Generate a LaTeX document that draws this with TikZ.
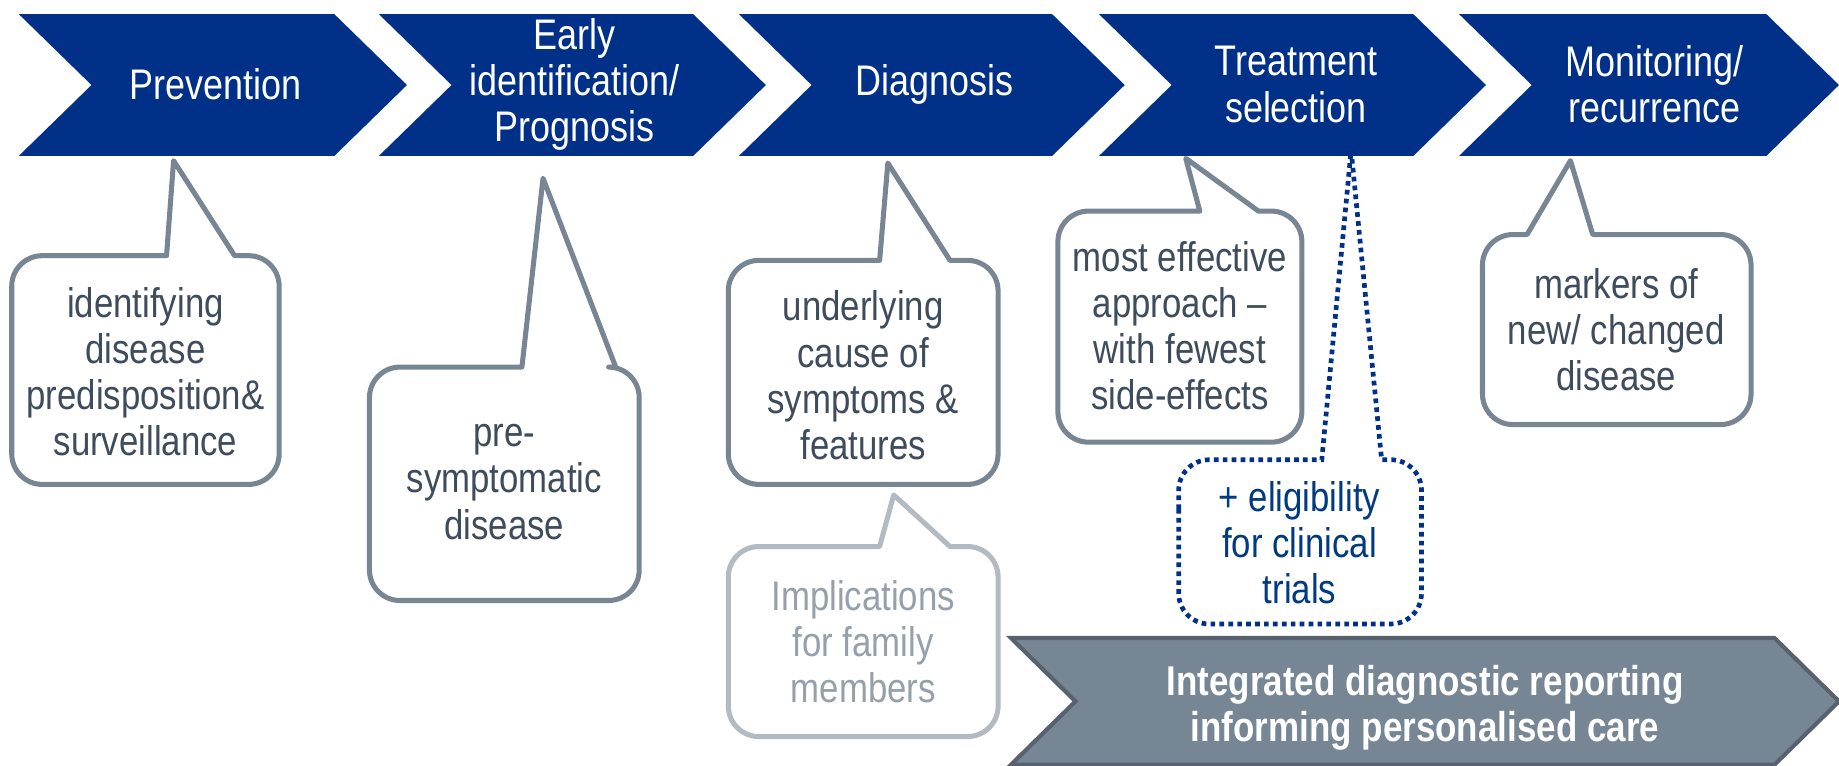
\documentclass[tikz,border=0pt]{standalone}
\usepackage{fontspec}
\setmainfont{Liberation Sans}[FakeStretch=0.84]
\definecolor{chevblue}{RGB}{0,48,135}
\definecolor{bubgray}{RGB}{120,134,148}
\definecolor{txtgray}{RGB}{62,76,92}
\definecolor{lightgray2}{RGB}{178,186,194}
\definecolor{lighttxt}{RGB}{150,160,170}
\definecolor{banfill}{RGB}{118,134,148}
\definecolor{banedge}{RGB}{88,98,110}
\definecolor{dotblue}{RGB}{0,48,135}
\definecolor{eltxt}{RGB}{0,58,130}
\newcommand\chevfs{\fontsize{36.5}{39.5}\selectfont}
\newcommand\bubfs{\fontsize{35.3}{39.3}\selectfont}
\newcommand\banfs{\fontsize{35.5}{38.5}\selectfont\bfseries}
\begin{document}
\begin{tikzpicture}[x=1pt,y=-1pt,
  chev/.style={fill=chevblue},
  ctext/.style={text=white,font=\chevfs,align=center,inner sep=0pt},
  bub/.style={draw=bubgray,line width=4.3pt,fill=white,line join=round},
  lbub/.style={draw=lightgray2,line width=4.3pt,fill=white,line join=round},
  dbub/.style={draw=dotblue,line width=4pt,fill=white,dash pattern=on 4pt off 3.6pt},
  btext/.style={text=txtgray,font=\bubfs,align=center,inner sep=0pt},
  ltext/.style={text=lighttxt,font=\bubfs,align=center,inner sep=0pt},
  etext/.style={text=eltxt,font=\bubfs,align=center,inner sep=0pt},
  bantext/.style={text=white,font=\banfs,align=center,inner sep=0pt},
  banner/.style={fill=banfill,draw=banedge,line width=3.5pt,line join=miter}]
\useasboundingbox (0,0) rectangle (1568,653);
\clip (0,0) rectangle (1568,653);
\fill[white] (0,0) rectangle (1568,653);

% chevrons
\foreach \L/\R in {16/285,323/591,630/897,937/1205,1244/1506}{
  \fill[chev] (\L,12) -- (\R,12) -- (\R+62,72.5) -- (\R,133) -- (\L,133) -- (\L+62,72.5) -- cycle;
}
\node[ctext] (c1) at (184,72) {Prevention};
\node[ctext] (c2) at (490,72) {Early\\identification/\\Prognosis};
\node[ctext] (c3) at (797,72) {Diagnosis};
\node[ctext] (c4) at (1105,72) {Treatment\\selection};
\node[ctext] (c5) at (1411,72) {Monitoring/\\recurrence};

% bubble 1
\draw[bub] (10,300) [rounded corners=26pt] -- (10,218) [sharp corners] -- (142,218) -- (148,137) -- (200,218) [rounded corners=26pt] -- (238,218) -- (238,413) -- (10,413) -- cycle;
\node[btext] (b1) at (124,317) {identifying\\disease\\predisposition\&\\surveillance};

% bubble 2
\draw[bub] (315,400) [rounded corners=26pt] -- (315,313) [sharp corners] -- (445,313) -- (463,152) -- (525,313) [rounded corners=26pt] -- (545,313) -- (545,512) -- (315,512) -- cycle;
\node[btext] (b2) at (430,411) {pre-\\symptomatic\\disease};

% bubble 3
\draw[bub] (621,300) [rounded corners=26pt] -- (621,222) [sharp corners] -- (750,222) -- (757,139) -- (810,222) [rounded corners=26pt] -- (851,222) -- (851,413) -- (621,413) -- cycle;
\node[btext] (b3) at (736,320) {underlying\\cause of\\symptoms \&\\features};

% bubble 4 (light)
\draw[lbub] (621,540) [rounded corners=26pt] -- (621,466) [sharp corners] -- (750,466) -- (762,422) -- (810,466) [rounded corners=26pt] -- (851,466) -- (851,628) -- (621,628) -- cycle;
\node[ltext] (b4) at (736,547) {Implications\\for family\\members};

% bubble 5
\draw[bub] (902,280) [rounded corners=26pt] -- (902,180) [sharp corners] -- (1023,180) -- (1011,135) -- (1073,180) [rounded corners=26pt] -- (1110,180) -- (1110,377) -- (902,377) -- cycle;
\node[btext] (b5) at (1006,278) {most effective\\approach --\\with fewest\\side-effects};

% bubble 6
\draw[bub] (1264,280) [rounded corners=26pt] -- (1264,200) [sharp corners] -- (1302,200) -- (1339,137) -- (1358,200) [rounded corners=26pt] -- (1493,200) -- (1493,362) -- (1264,362) -- cycle;
\node[btext] (b6) at (1378,281) {markers of\\new/ changed\\disease};

% bubble 7 (dotted)
\draw[dbub] (1005,460) [rounded corners=26pt] -- (1005,392) [sharp corners] -- (1127,392) -- (1152,128) -- (1178,392) [rounded corners=26pt] -- (1212,392) -- (1212,532) -- (1005,532) -- cycle;
\node[etext] (b7) at (1108,463) {+ eligibility\\for clinical\\trials};

% banner
\draw[banner] (862,544) -- (1513,544) -- (1568,598) -- (1513,652) -- (862,652) -- (917,598) -- cycle;
\node[bantext] (ban) at (1215,603.5) {Integrated diagnostic reporting\\informing personalised care};
\end{tikzpicture}
\end{document}
